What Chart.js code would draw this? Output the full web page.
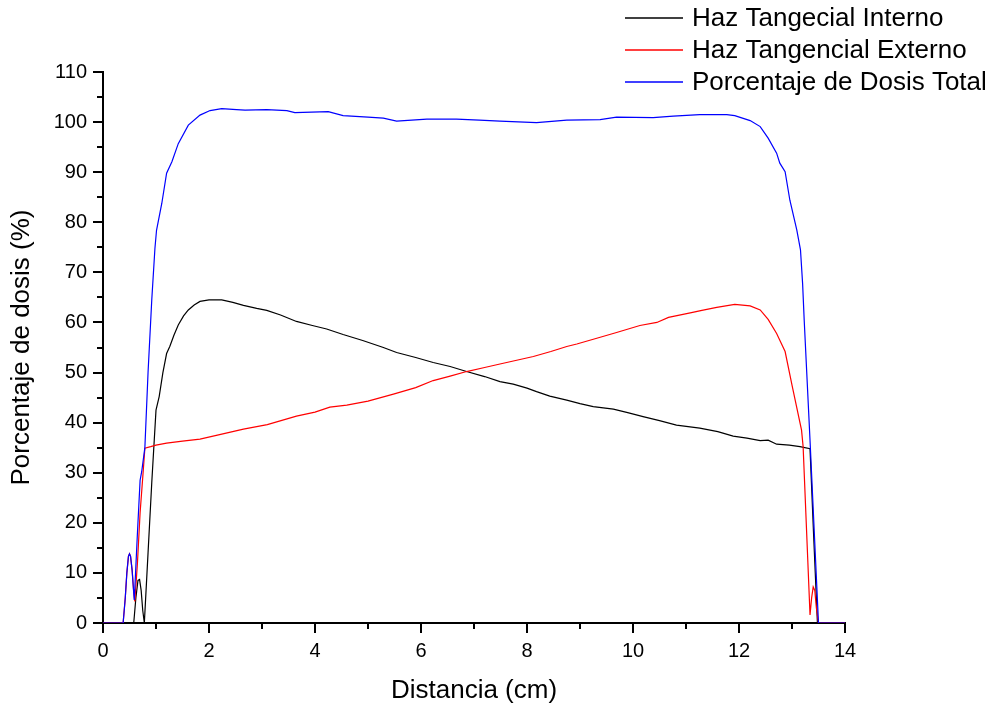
<!DOCTYPE html>
<html lang="es">
<head>
    <meta charset="UTF-8">
    <title>Porcentaje de dosis</title>
    <style>
        body { margin: 0; background: #fff; }
        #grafico { display: block; }
    </style>
</head>
<body>
    <canvas id="grafico" width="997" height="709"></canvas>

    <script src="https://cdn.jsdelivr.net/npm/chart.js"></script>
    <script>
        // Haz Tangecial Interno (negro)
        const xInterno = [0, 0.58, 0.62, 0.66, 0.69, 0.72, 0.75, 0.78, 0.85, 0.92, 1.0, 1.06, 1.13, 1.2, 1.26, 1.34, 1.42, 1.52, 1.61, 1.72, 1.83, 2.0, 2.24, 2.45, 2.65, 2.9, 3.09, 3.35, 3.65, 3.95, 4.22, 4.53, 4.9, 5.29, 5.54, 5.9, 6.23, 6.55, 6.86, 7.2, 7.49, 7.74, 8.0, 8.18, 8.43, 8.75, 9.0, 9.25, 9.63, 9.9, 10.19, 10.5, 10.82, 11.26, 11.6, 11.89, 12.15, 12.4, 12.55, 12.71, 12.95, 13.15, 13.34, 13.41, 13.48, 14];
        const yInterno = [0, 0, 5, 8.5, 8.7, 6.5, 2.5, 0, 14, 28, 42.5, 45.2, 50, 53.8, 55.2, 57.5, 59.5, 61.3, 62.5, 63.5, 64.2, 64.5, 64.5, 64.0, 63.4, 62.8, 62.4, 61.5, 60.2, 59.4, 58.7, 57.6, 56.4, 55.0, 54.0, 53.0, 52.0, 51.2, 50.2, 49.2, 48.2, 47.7, 46.9, 46.2, 45.3, 44.5, 43.8, 43.2, 42.7, 42.0, 41.2, 40.4, 39.5, 38.9, 38.2, 37.3, 36.9, 36.4, 36.5, 35.7, 35.5, 35.2, 34.8, 17, 0, 0];

        // Haz Tangencial Externo (rojo)
        const xExterno = [0, 0.38, 0.42, 0.45, 0.48, 0.5, 0.52, 0.55, 0.58, 0.6, 0.65, 0.7, 0.76, 0.79, 0.9, 1.0, 1.2, 1.5, 1.83, 2.2, 2.65, 3.1, 3.65, 4.0, 4.28, 4.6, 5.0, 5.48, 5.9, 6.23, 6.55, 6.86, 7.2, 7.49, 8.12, 8.45, 8.75, 8.94, 9.3, 9.69, 10.13, 10.45, 10.67, 11.08, 11.3, 11.58, 11.92, 12.21, 12.4, 12.55, 12.71, 12.87, 13.0, 13.18, 13.21, 13.34, 13.37, 13.40, 13.43, 13.46, 13.5, 14];
        const yExterno = [0, 0, 5, 10, 13.3, 13.8, 13.3, 10.5, 6, 4.3, 12, 22, 30.5, 34.9, 35.2, 35.5, 35.9, 36.3, 36.7, 37.6, 38.7, 39.6, 41.3, 42.1, 43.1, 43.5, 44.3, 45.7, 47.0, 48.4, 49.3, 50.2, 51.0, 51.7, 53.2, 54.2, 55.2, 55.7, 56.8, 58.0, 59.4, 60.0, 61.0, 61.9, 62.4, 63.0, 63.6, 63.3, 62.5, 60.6, 57.8, 54.2, 47.5, 38.5, 35.2, 1.6, 5, 7.2, 6.5, 3, 0, 0];

        // Porcentaje de Dosis Total (azul)
        const xTotal = [0, 0.38, 0.42, 0.45, 0.48, 0.5, 0.52, 0.55, 0.57, 0.59, 0.65, 0.70, 0.73, 0.79, 0.85, 0.92, 0.98, 1.01, 1.11, 1.2, 1.3, 1.42, 1.61, 1.83, 2.02, 2.24, 2.52, 2.68, 3.09, 3.47, 3.62, 4.25, 4.53, 5.0, 5.29, 5.54, 6.11, 6.67, 7.1, 7.49, 8.18, 8.75, 9.38, 9.69, 10.38, 10.76, 11.26, 11.77, 11.92, 12.21, 12.40, 12.55, 12.71, 12.77, 12.87, 12.96, 13.09, 13.16, 13.20, 13.23, 13.34, 13.5, 14];
        const yTotal = [0, 0, 5, 10, 13.3, 13.8, 13.3, 10.5, 7.5, 4.6, 18, 28.5, 30.2, 35, 50, 64.5, 74.8, 78.4, 83.8, 89.8, 92.1, 95.7, 99.4, 101.4, 102.3, 102.7, 102.5, 102.4, 102.5, 102.3, 101.9, 102.1, 101.3, 101.0, 100.8, 100.2, 100.6, 100.6, 100.4, 100.2, 99.9, 100.4, 100.5, 101.0, 100.9, 101.2, 101.5, 101.5, 101.3, 100.3, 99.1, 96.8, 93.8, 91.8, 90.1, 84.4, 78.5, 74.5, 67.8, 60.5, 36.5, 0, 0];

        const xTicks = [0, 2, 4, 6, 8, 10, 12, 14];
        const yTicks = [0, 10, 20, 30, 40, 50, 60, 70, 80, 90, 100, 110];

        function puntos(xs, ys) {
            return xs.map((x, i) => ({ x: x, y: ys[i] }));
        }

        const fuente = "Arial, 'Liberation Sans', sans-serif";

        // ticks menores (cada 5 en y, cada 1 en x)
        const ticksMenores = {
            id: 'ticksMenores',
            afterDraw(chart) {
                const ctx = chart.ctx;
                const xs = chart.scales.x;
                const ys = chart.scales.y;
                const area = chart.chartArea;
                ctx.save();
                ctx.strokeStyle = '#000';
                ctx.lineWidth = 2;
                ctx.beginPath();
                for (let v = 5; v < 110; v += 10) {
                    const py = Math.round(ys.getPixelForValue(v));
                    ctx.moveTo(area.left - 6, py);
                    ctx.lineTo(area.left, py);
                }
                for (let v = 1; v < 14; v += 2) {
                    const px = Math.round(xs.getPixelForValue(v));
                    ctx.moveTo(px, area.bottom);
                    ctx.lineTo(px, area.bottom + 6);
                }
                ctx.stroke();
                ctx.restore();
            }
        };

        // leyenda arriba a la derecha, como en el original
        const leyenda = {
            id: 'leyenda',
            afterDraw(chart) {
                const ctx = chart.ctx;
                ctx.save();
                ctx.font = '26px ' + fuente;
                ctx.textBaseline = 'middle';
                ctx.fillStyle = '#000';
                chart.data.datasets.forEach((ds, i) => {
                    const y = 18 + i * 32;
                    ctx.strokeStyle = ds.borderColor;
                    ctx.lineWidth = 1.3;
                    ctx.beginPath();
                    ctx.moveTo(625, y);
                    ctx.lineTo(683, y);
                    ctx.stroke();
                    ctx.fillText(ds.label, 692, y + 1);
                });
                ctx.restore();
            }
        };

        new Chart(document.getElementById('grafico'), {
            type: 'line',
            data: {
                datasets: [
                    {
                        label: 'Haz Tangecial Interno',
                        data: puntos(xInterno, yInterno),
                        borderColor: '#000000',
                        borderWidth: 1.2,
                        order: 2
                    },
                    {
                        label: 'Haz Tangencial Externo',
                        data: puntos(xExterno, yExterno),
                        borderColor: '#ff0000',
                        borderWidth: 1.2,
                        order: 1
                    },
                    {
                        label: 'Porcentaje de Dosis Total',
                        data: puntos(xTotal, yTotal),
                        borderColor: '#0000ff',
                        borderWidth: 1.2,
                        order: 0
                    }
                ]
            },
            options: {
                responsive: false,
                animation: false,
                events: [],
                elements: {
                    point: { radius: 0 },
                    line: { tension: 0 }
                },
                layout: {
                    padding: { left: 0, right: 152, top: 72, bottom: 0 }
                },
                plugins: {
                    legend: { display: false },
                    tooltip: { enabled: false }
                },
                scales: {
                    x: {
                        type: 'linear',
                        min: 0,
                        max: 14,
                        afterBuildTicks(scale) {
                            scale.ticks = xTicks.map(v => ({ value: v }));
                        },
                        afterFit(scale) { scale.height = 86; },
                        grid: {
                            drawOnChartArea: false,
                            color: '#000',
                            lineWidth: 2,
                            tickLength: 10
                        },
                        border: { display: true, color: '#000', width: 2 },
                        ticks: {
                            color: '#000',
                            padding: 6,
                            maxRotation: 0,
                            font: { family: fuente, size: 20 }
                        },
                        title: {
                            display: true,
                            text: 'Distancia (cm)',
                            color: '#000',
                            padding: { top: 0, bottom: 3 },
                            font: { family: fuente, size: 26 }
                        }
                    },
                    y: {
                        type: 'linear',
                        min: 0,
                        max: 110,
                        afterBuildTicks(scale) {
                            scale.ticks = yTicks.map(v => ({ value: v }));
                        },
                        afterFit(scale) { scale.width = 103; },
                        grid: {
                            drawOnChartArea: false,
                            color: '#000',
                            lineWidth: 2,
                            tickLength: 10
                        },
                        border: { display: true, color: '#000', width: 2 },
                        ticks: {
                            color: '#000',
                            padding: 6,
                            font: { family: fuente, size: 20 }
                        },
                        title: {
                            display: true,
                            text: 'Porcentaje de dosis (%)',
                            color: '#000',
                            padding: { top: 6, bottom: 0 },
                            font: { family: fuente, size: 26 }
                        }
                    }
                }
            },
            plugins: [ticksMenores, leyenda]
        });
    </script>
</body>
</html>
